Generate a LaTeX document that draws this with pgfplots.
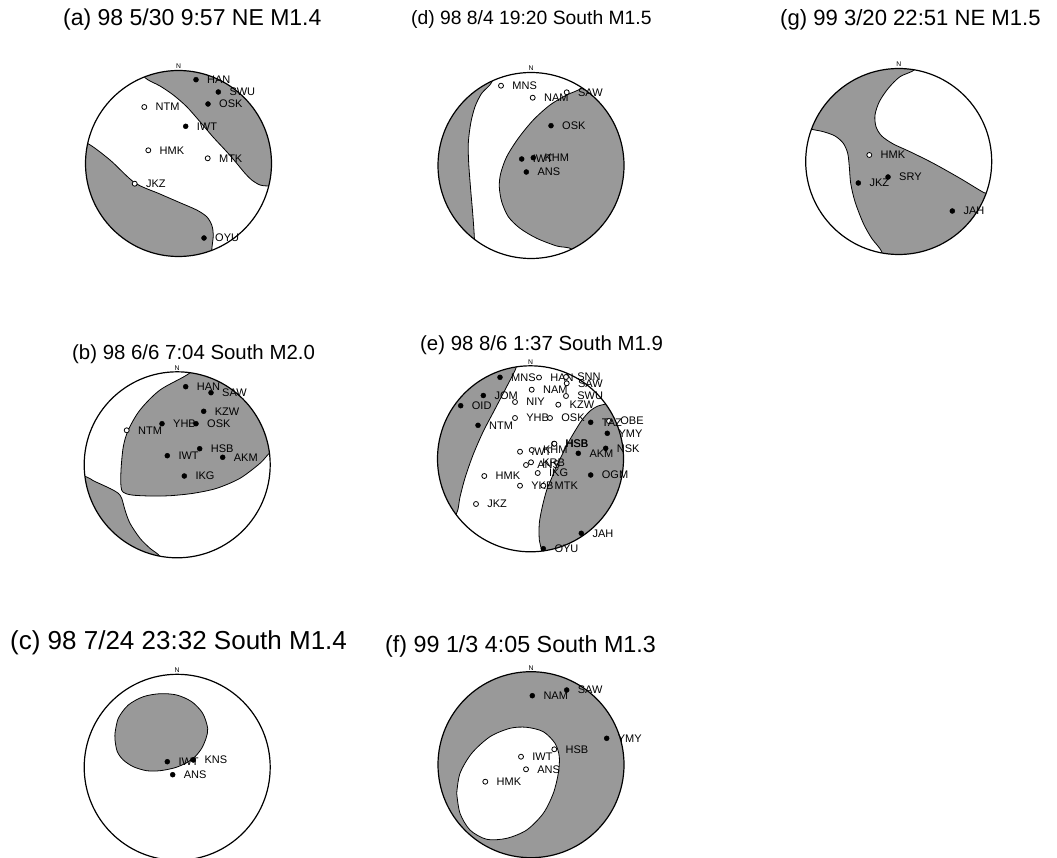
\documentclass[border=0pt]{standalone}
\usepackage{fontspec}
\setmainfont{Liberation Sans}
\usepackage{pgfplots}
\pgfplotsset{compat=1.18}
\definecolor{bg}{RGB}{153,153,153}
\pgfplotsset{
  lab/.style={nodes near coords, point meta=explicit symbolic,
    every node near coord/.append style={anchor=west, xshift=11pt, inner sep=0pt, text=black, font=\fontsize{11}{11}\selectfont}},
  fsta/.style={only marks, mark=*, mark size=2.5pt, mark options={fill=black, draw=black, line width=0.4pt}, lab},
  osta/.style={only marks, mark=*, mark size=2.5pt, mark options={fill=white, draw=black, line width=0.8pt}, lab},
  nod/.style={fill=bg, draw=black, line width=0.8pt, smooth, tension=0.5},
}
\newcommand{\mask}[2]{\draw[white, line width=80pt] (axis cs:#1,#2) circle[radius=133];}
\newcommand{\ring}[2]{\draw[black, line width=1.2pt] (axis cs:#1,#2) circle[radius=93];
  \node[anchor=south, inner sep=1.5pt, font=\fontsize{6.8}{7}\selectfont] at (axis cs:#1,#2-93) {N};}
\begin{document}
\begin{tikzpicture}[x=1pt,y=1pt]
\useasboundingbox (0,0) rectangle (1057,858);
\begin{axis}[at={(0,0)}, anchor=south west, scale only axis, width=1057pt, height=858pt,
  xmin=0, xmax=1057, ymin=0, ymax=858, y dir=reverse, hide axis, clip=false]

% ---------- (a)
\addplot[nod] coordinates {(140,65) (145,77.7) (160,86) (173.3,95) (186.7,106.7) (200,121.7) (213.3,137.3) (226.7,151.7) (236.7,163.3) (245,173.3) (251.7,180) (260,185) (268.3,186) (285,186) (290,140) (280,80) (230,55) (140,55)};
\addplot[nod] coordinates {(70,140) (87.3,143.3) (110,160) (134.7,182.7) (160,194) (180,202.7) (196.7,210) (206.7,216.7) (211.7,225) (213.3,235) (211.7,250.7) (212,265) (150,275) (60,220) (60,140)};
% ---------- (d)
\addplot[nod] coordinates {(495,65) (491.7,82.3) (481.7,93.3) (475,106.7) (470.7,123.3) (468.3,143.3) (468.7,163.3) (470.7,190) (472.7,213.3) (474.3,237.3) (474,255) (420,230) (420,100) (470,60)};
\addplot[nod] coordinates {(590,72) (581.7,87.7) (566.7,95) (550,105) (533.3,120) (518.3,138.3) (506.7,156.7) (500.7,173.3) (499.3,186.7) (501.7,201.7) (508.3,216.7) (520,228.3) (536.7,238.3) (556.7,246) (571.7,249.3) (575,265) (640,230) (645,120) (610,70)};
% ---------- (g)
\addplot[nod] coordinates {(918,55) (915,69.3) (900,76.7) (888.3,88.3) (879.3,101.7) (875,115) (876,126.7) (881.7,136) (893.3,144) (910,151.7) (933.3,163.3) (960,178.3) (984,192.7) (1000,200) (1000,270) (884,268) (881.7,251.7) (871.7,238.3) (863.3,223.3) (855,201.7) (850.7,183.3) (849.3,166.7) (847.7,153.3) (843.3,143.3) (835,136) (823.3,131.7) (811.7,129.3) (795,125) (790,50) (918,50)};
% ---------- (b)
\addplot[nod] coordinates {(192,360) (190,372.7) (160,390) (140,410) (128.3,430) (123.3,446.7) (121,470) (121,486.7) (123.3,492.3) (131.7,495) (150,496) (170,495.7) (193.3,493.3) (216.7,488.3) (240,478.3) (260,463.3) (269.3,453.3) (285,440) (290,380) (230,345) (192,350)};
\addplot[nod] coordinates {(70,475) (86,476.7) (93.3,480.7) (103.3,485.3) (111.7,489.3) (118.3,493.3) (121.7,498.3) (125,510) (130,523.3) (140,538.3) (150,548.3) (160,556.7) (160,570) (70,570)};
% ---------- (e)
\addplot[nod] coordinates {(518,355) (516,368) (506,388) (494,411) (483,432) (473,455) (465,478) (460,497) (456.7,513) (445,525) (420,470) (430,400) (490,355)};
\addplot[nod] coordinates {(620,400) (606,404) (598,406) (590,411) (582,420) (575,431) (568,443) (562,455) (556,467) (551.7,478) (546.7,490) (542.3,506.7) (539.3,523.3) (539.3,540) (541.7,551) (542,565) (640,530) (640,400)};
% ---------- (c)
\addplot[nod] coordinates {(115,733.3) (118.3,718.3) (128.3,705) (143.3,696.7) (160,693.7) (176.7,695) (191.7,701.7) (202.7,713.3) (207.7,728.3) (206,738.3) (201.7,748.3) (195,756.7) (186.7,762.7) (175,767.7) (160,770.7) (146.7,770.7) (133.3,766.7) (123.3,760) (117.3,751.7) (115,740) (115,733.3)};
% ---------- (f)
\addplot[fill=bg, draw=none] coordinates {(434,667.7) (628,667.7) (628,861.7) (434,861.7)};
\addplot[fill=white, draw=black, line width=0.8pt, smooth, tension=0.5] coordinates {(456.7,793.3) (460,773.3) (471.7,753.3) (490,736.7) (510,728.3) (526.7,727.3) (543.3,731.7) (555,743.3) (559.3,756.7) (558.3,773.3) (553.3,793.3) (543.3,813.3) (526.7,830) (506.7,838.3) (486.7,839.3) (470,830) (460,813.3) (456.7,793.3)};

% ---------- masks and outlines
\mask{178.5}{163.5}\mask{531}{165.5}\mask{898.7}{161.5}
\mask{177.2}{464.8}\mask{530.5}{458.8}
\mask{177.2}{767.3}\mask{531}{764.7}
\ring{178.5}{163.5}\ring{531}{165.5}\ring{898.7}{161.5}
\ring{177.2}{464.8}\ring{530.5}{458.8}
\ring{177.2}{767.3}\ring{531}{764.7}

% ---------- stations (a)
\addplot[fsta] table[x=x,y=y,meta=l] {
x y l
196 79.7 HAN
218.3 92 SWU
208 104 OSK
185.7 126.3 IWT
204 238 OYU
};
\addplot[osta] table[x=x,y=y,meta=l] {
x y l
144.3 107 NTM
148.3 150.3 HMK
207.7 158.3 MTK
134.7 183.7 JKZ
};
% (d)
\addplot[osta] table[x=x,y=y,meta=l] {
x y l
501 85.7 MNS
532.7 97.7 NAM
566.7 92.3 SAW
};
\addplot[fsta] table[x=x,y=y,meta=l] {
x y l
551 125.7 OSK
521.7 159 IWT
533.3 157.7 KHM
526.3 172 ANS
};
% (g)
\addplot[osta] table[x=x,y=y,meta=l] {
x y l
869.3 155 HMK
};
\addplot[fsta] table[x=x,y=y,meta=l] {
x y l
888 177 SRY
858.3 183 JKZ
952.3 211 JAH
};
% (b)
\addplot[fsta] table[x=x,y=y,meta=l] {
x y l
185.7 386.7 HAN
211 392.7 SAW
203.7 411.3 KZW
162 423.7 YHB
196 423.7 OSK
199.7 448.7 HSB
167.3 455.7 IWT
222.7 457.3 AKM
184.3 476 IKG
};
\addplot[osta] table[x=x,y=y,meta=l] {
x y l
126.7 430.3 NTM
};
% (e)
\addplot[osta] table[x=x,y=y,meta=l] {
x y l
539 377.5 HAN
566 377 SNN
566.7 383.3 SAW
531.7 389.7 NAM
566 396 SWU
515 402 NIY
558.3 404.7 KZW
515 418 YHB
550 418 OSK
609 421 OBE
554 443.7 HSB
554.4 443.7 HSB
520 451.7 IWT
531.7 450 KHM
526 465 ANS
531 462.3 KRB
537.7 473 IKG
484.3 476 HMK
520 485.7 YKB
543.3 485.7 MTK
476 504 JKZ
};
\addplot[fsta] table[x=x,y=y,meta=l] {
x y l
500 377.3 MNS
483.3 395.5 JOM
460.7 405.7 OID
478 425.3 NTM
590.7 422.3 TAZ
607.3 433.3 YMY
605.7 448.3 NSK
578.3 453.3 AKM
590.7 475 OGM
581.3 533.3 JAH
543.3 548.7 OYU
};
% (c)
\addplot[fsta] table[x=x,y=y,meta=l] {
x y l
167.3 761.7 IWT
193.3 760 KNS
172.7 774.7 ANS
};
% (f)
\addplot[fsta] table[x=x,y=y,meta=l] {
x y l
532.3 695.7 NAM
566.7 690 SAW
606.7 738.3 YMY
};
\addplot[osta] table[x=x,y=y,meta=l] {
x y l
554.3 749.3 HSB
521 756.7 IWT
526 769.3 ANS
485.3 781.7 HMK
};

% ---------- titles
\node[anchor=base west, inner sep=0pt, font=\fontsize{23}{23}\selectfont] at (axis cs:63,26) {(a) 98 5/30 9:57 NE M1.4};
\node[anchor=base west, inner sep=0pt, font=\fontsize{19.3}{20}\selectfont] at (axis cs:411,25) {(d) 98 8/4 19:20 South M1.5};
\node[anchor=base west, inner sep=0pt, font=\fontsize{22.1}{22}\selectfont] at (axis cs:780,26) {(g) 99 3/20 22:51 NE M1.5};
\node[anchor=base west, inner sep=0pt, font=\fontsize{20.4}{20}\selectfont] at (axis cs:72,359) {(b) 98 6/6 7:04 South M2.0};
\node[anchor=base west, inner sep=0pt, font=\fontsize{20.4}{20}\selectfont] at (axis cs:420,350) {(e) 98 8/6 1:37 South M1.9};
\node[anchor=base west, inner sep=0pt, font=\fontsize{26}{26}\selectfont] at (axis cs:10,649) {(c) 98 7/24 23:32 South M1.4};
\node[anchor=base west, inner sep=0pt, font=\fontsize{23.3}{23}\selectfont] at (axis cs:385,652) {(f) 99 1/3 4:05 South M1.3};
\end{axis}
\end{tikzpicture}
\end{document}
